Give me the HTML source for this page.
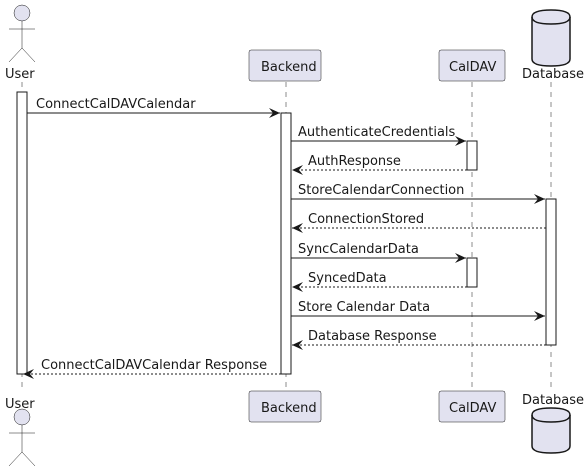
<!DOCTYPE html>
<html><head><style>body{margin:0;background:#fff}svg{display:block}</style></head><body>
<svg width="588" height="472" viewBox="0 0 588 472" xmlns="http://www.w3.org/2000/svg" font-family="DejaVu Sans, sans-serif" font-size="13">
<defs>
<marker id="a" markerWidth="12" markerHeight="10" refX="11" refY="5" orient="auto" markerUnits="userSpaceOnUse"><path d="M0,0 L11,5 L0,10 L4,5 Z" fill="#181818"/></marker>
<marker id="o" markerWidth="12" markerHeight="10" refX="11" refY="5" orient="auto" markerUnits="userSpaceOnUse"><path d="M0,0 L11,5 L0,10 L4,5 Z" fill="#181818"/></marker>
</defs>
<g stroke="#181818" stroke-width="0.5" stroke-dasharray="5,5">
<line x1="22" y1="82" x2="22" y2="392"/><line x1="286" y1="82" x2="286" y2="392"/><line x1="472" y1="82" x2="472" y2="392"/><line x1="551" y1="82" x2="551" y2="392"/>
</g>
<g fill="#E2E2F0" stroke="#181818" stroke-width="0.5">
<circle cx="22" cy="13" r="8"/><line x1="22" y1="21" x2="22" y2="48"/><line x1="9" y1="29" x2="35" y2="29"/><line x1="22" y1="48" x2="9" y2="62"/><line x1="22" y1="48" x2="35" y2="62"/>
<circle cx="22" cy="417" r="8"/><line x1="22" y1="425" x2="22" y2="452"/><line x1="9" y1="433" x2="35" y2="433"/><line x1="22" y1="452" x2="9" y2="466"/><line x1="22" y1="452" x2="35" y2="466"/>
<rect x="249" y="50" width="72" height="31" rx="2"/><rect x="249" y="391" width="72" height="31" rx="2"/>
<rect x="439" y="50" width="66" height="31" rx="2"/><rect x="439" y="391" width="66" height="31" rx="2"/>
</g>
<g fill="#E2E2F0" stroke="#181818" stroke-width="1.5">
<path d="M532,17 Q532,10 551,10 Q570,10 570,17 L570,59 Q570,66 551,66 Q532,66 532,59 Z"/><path d="M532,17 Q532,24 551,24 Q570,24 570,17" fill="none"/>
<path d="M532,75 Q532,68 551,68 Q570,68 570,75 L570,106 Q570,113 551,113 Q532,113 532,106 Z" transform="translate(0,340)"/><path d="M532,415 Q532,422 551,422 Q570,422 570,415" fill="none"/>
</g>
<g fill="#181818" font-size="13">
<text x="5" y="78">User</text><text x="5" y="408">User</text>
<text x="261" y="71">Backend</text><text x="261" y="412">Backend</text>
<text x="449" y="71">CalDAV</text><text x="449" y="412">CalDAV</text>
<text x="522" y="78">Database</text><text x="522" y="404">Database</text>
</g>
<g fill="#fff" stroke="#181818" stroke-width="1">
<rect x="17" y="92" width="10" height="282"/><rect x="281" y="113" width="10" height="261"/>
<rect x="467" y="141" width="10" height="29"/><rect x="467" y="258" width="10" height="29"/>
<rect x="546" y="199" width="10" height="146"/>
</g>
<g stroke="#181818" stroke-width="1" fill="none">
<line x1="27" y1="113" x2="280" y2="113" marker-end="url(#a)"/>
<line x1="291" y1="141" x2="466" y2="141" marker-end="url(#a)"/>
<line x1="467" y1="170" x2="292" y2="170" stroke-dasharray="2,2" marker-end="url(#o)"/>
<line x1="291" y1="199" x2="545" y2="199" marker-end="url(#a)"/>
<line x1="546" y1="228" x2="292" y2="228" stroke-dasharray="2,2" marker-end="url(#o)"/>
<line x1="291" y1="258" x2="466" y2="258" marker-end="url(#a)"/>
<line x1="467" y1="287" x2="292" y2="287" stroke-dasharray="2,2" marker-end="url(#o)"/>
<line x1="291" y1="316" x2="545" y2="316" marker-end="url(#a)"/>
<line x1="546" y1="345" x2="292" y2="345" stroke-dasharray="2,2" marker-end="url(#o)"/>
<line x1="281" y1="374" x2="23" y2="374" stroke-dasharray="2,2" marker-end="url(#o)"/>
</g>
<g fill="#181818">
<text x="36" y="108">ConnectCalDAVCalendar</text>
<text x="298" y="136">AuthenticateCredentials</text>
<text x="308" y="165">AuthResponse</text>
<text x="298" y="194">StoreCalendarConnection</text>
<text x="308" y="223">ConnectionStored</text>
<text x="298" y="253">SyncCalendarData</text>
<text x="308" y="282">SyncedData</text>
<text x="298" y="311">Store Calendar Data</text>
<text x="308" y="340">Database Response</text>
<text x="41" y="369">ConnectCalDAVCalendar Response</text>
</g>
</svg>
</body></html>
